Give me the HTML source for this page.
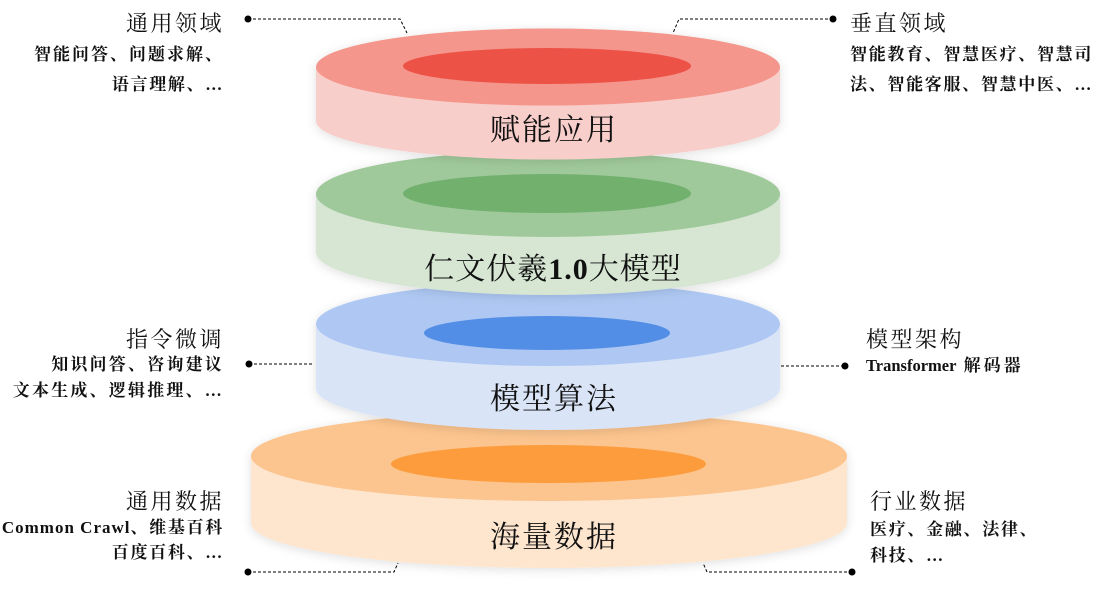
<!DOCTYPE html>
<html>
<head>
<meta charset="utf-8">
<style>
  html,body{margin:0;padding:0;background:#fff;}
  body{width:1104px;height:590px;position:relative;overflow:hidden;}
  svg{position:absolute;left:0;top:0;}
  .t{position:absolute;white-space:nowrap;line-height:1;color:#111;}
  .ttl{font-family:"Liberation Serif","Noto Serif CJK SC",serif;font-size:22px;letter-spacing:2.5px;font-weight:400;}
  .sub{font-family:"Liberation Serif","Noto Serif CJK SC",serif;font-size:17px;letter-spacing:1.7px;font-weight:700;}
  .L{right:880px;text-align:right;}
  .R{left:850px;text-align:left;}
  .disk{font-family:"Liberation Serif","Noto Serif CJK SC",serif;font-size:30px;font-weight:400;letter-spacing:2px;left:0;width:1104px;text-align:center;color:#111;}
  .lat{font-family:"Liberation Serif",serif;font-weight:700;}
</style>
</head>
<body>
<svg width="1104" height="590" viewBox="0 0 1104 590" xmlns="http://www.w3.org/2000/svg">
  <defs>
    <filter id="sh" x="-10%" y="-20%" width="120%" height="150%">
      <feDropShadow dx="0" dy="2" stdDeviation="5" flood-color="#000" flood-opacity="0.12"/>
    </filter>
  </defs>

  <!-- Orange disk -->
  <g filter="url(#sh)">
    <ellipse cx="549" cy="523" rx="298" ry="45" fill="#FDE5CE"/>
    <rect x="251" y="456" width="596" height="67" fill="#FDE5CE"/>
    <ellipse cx="549" cy="456" rx="298" ry="45" fill="#FCC48E"/>
  </g>
  <ellipse cx="548.5" cy="464" rx="157.5" ry="19" fill="#FD9C3C"/>

  <!-- Blue disk -->
  <g filter="url(#sh)">
    <ellipse cx="548" cy="388" rx="232" ry="42" fill="#D9E4F7"/>
    <rect x="316" y="324" width="464" height="64" fill="#D9E4F7"/>
    <ellipse cx="548" cy="324" rx="232" ry="42" fill="#AEC8F3"/>
  </g>
  <ellipse cx="547" cy="333" rx="123" ry="17" fill="#538EE6"/>

  <!-- Green disk -->
  <g filter="url(#sh)">
    <ellipse cx="548" cy="252" rx="232" ry="43" fill="#D6E6D3"/>
    <rect x="316" y="194" width="464" height="58" fill="#D6E6D3"/>
    <ellipse cx="548" cy="194" rx="232" ry="43" fill="#A0C99B"/>
  </g>
  <ellipse cx="547" cy="193.5" rx="144" ry="19.5" fill="#72B06E"/>

  <!-- Red disk -->
  <g filter="url(#sh)">
    <ellipse cx="548" cy="121" rx="232" ry="38.5" fill="#F8CECB"/>
    <rect x="316" y="67" width="464" height="54" fill="#F8CECB"/>
    <ellipse cx="548" cy="67" rx="232" ry="38.5" fill="#F4968C"/>
  </g>
  <ellipse cx="547" cy="66" rx="144" ry="18" fill="#ED5247"/>

  <!-- Connectors -->
  <g stroke="#000" stroke-width="1" fill="none" stroke-dasharray="3 2">
    <polyline points="248,19 400,19 407,33"/>
    <polyline points="833,19 679,19 673,33"/>
    <line x1="249" y1="364" x2="314" y2="364"/>
    <line x1="781" y1="366" x2="845" y2="366"/>
    <polyline points="248,572 394,572 398,563"/>
    <polyline points="852,572 707,572 703,563"/>
  </g>
  <g fill="#000">
    <circle cx="248" cy="19" r="3.5"/>
    <circle cx="833" cy="19" r="3.5"/>
    <circle cx="249" cy="364" r="3.5"/>
    <circle cx="845" cy="366" r="3.5"/>
    <circle cx="248" cy="572" r="3.5"/>
    <circle cx="852" cy="572" r="3.5"/>
  </g>
</svg>

<!-- Disk labels -->
<div class="t disk" style="top:116px;padding-left:2px;">赋能应用</div>
<div class="t disk" style="top:255px;padding-left:1px;letter-spacing:1px;">仁文伏羲<b class="lat">1.0</b>大模型</div>
<div class="t disk" style="top:385px;padding-left:2px;">模型算法</div>
<div class="t disk" style="top:523px;padding-left:2px;">海量数据</div>

<!-- Top-left -->
<div class="t ttl L" style="top:13px;">通用领域</div>
<div class="t sub L" style="top:46px;letter-spacing:2px;">智能问答、问题求解、</div>
<div class="t sub L" style="top:76px;">语言理解、<span class="lat">…</span></div>

<!-- Top-right -->
<div class="t ttl R" style="top:13px;">垂直领域</div>
<div class="t sub R" style="top:46px;">智能教育、智慧医疗、智慧司</div>
<div class="t sub R" style="top:76px;">法、智能客服、智慧中医、<span class="lat">…</span></div>

<!-- Middle-left -->
<div class="t ttl L" style="top:329px;">指令微调</div>
<div class="t sub L" style="top:356px;letter-spacing:2.2px;">知识问答、咨询建议</div>
<div class="t sub L" style="top:382px;letter-spacing:2.2px;">文本生成、逻辑推理、<span class="lat">…</span></div>

<!-- Middle-right -->
<div class="t ttl" style="left:866px;top:329px;">模型架构</div>
<div class="t sub" style="left:866px;top:357px;letter-spacing:3px;"><span class="lat" style="letter-spacing:0;font-size:16.5px;">Transformer</span>&nbsp;解码器</div>

<!-- Bottom-left -->
<div class="t ttl L" style="top:491px;">通用数据</div>
<div class="t sub L" style="top:519px;"><span class="lat" style="letter-spacing:1px;">Common Crawl</span>、维基百科</div>
<div class="t sub L" style="top:544px;">百度百科、<span class="lat">…</span></div>

<!-- Bottom-right -->
<div class="t ttl" style="left:870px;top:491px;">行业数据</div>
<div class="t sub" style="left:870px;top:521px;">医疗、金融、法律、</div>
<div class="t sub" style="left:870px;top:547px;">科技、<span class="lat">…</span></div>
</body>
</html>
